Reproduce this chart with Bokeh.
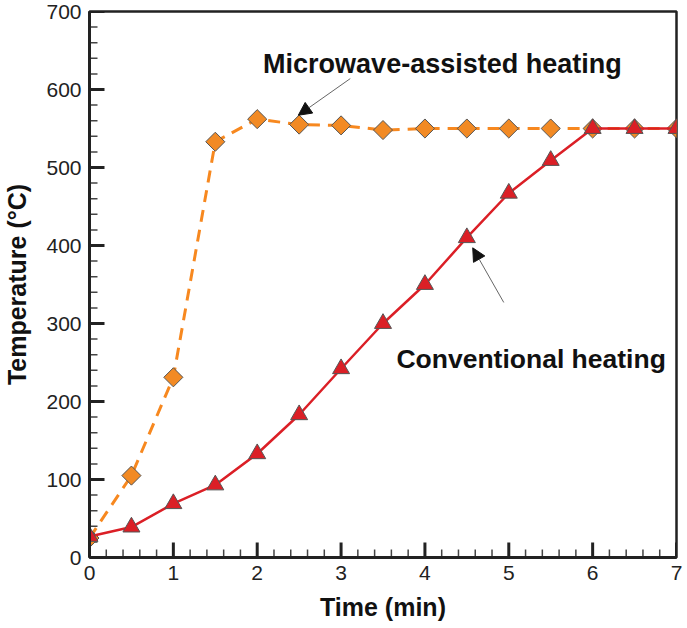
import numpy as np
from bokeh.plotting import figure
from bokeh.models import Range1d, Label, Arrow, NormalHead, SingleIntervalTicker
from bokeh.embed import file_html
from bokeh.resources import INLINE

# ---- data ----
time_min = [0, 0.5, 1, 1.5, 2, 2.5, 3, 3.5, 4, 4.5, 5, 5.5, 6, 6.5, 7]
microwave_temp = [25, 105, 231, 533, 562, 555, 554, 548, 550, 550, 550, 550, 550, 550, 550]
conventional_temp = [27, 39, 69, 93, 133, 183, 242, 300, 350, 410, 467, 509, 550, 550, 550]

x_ticks = [0, 1, 2, 3, 4, 5, 6, 7]
y_ticks = [0, 100, 200, 300, 400, 500, 600, 700]
x_minor_step = 0.2
y_minor_step = 20

x_label = "Time (min)"
y_label = "Temperature (°C)"
microwave_text = "Microwave-assisted heating"
conventional_text = "Conventional heating"

# annotation anchors (data units)
mw_text_pos = (2.07, 633)
conv_text_pos = (3.66, 255)
mw_arrow = (3.11, 614, 2.49, 567)
conv_arrow = (4.94, 327, 4.57, 397)

FONT = "Liberation Sans"
ORANGE = "#F7881F"
RED = "#DB1F26"

W, H = 687, 628
BL, BR, BT, BB = 89, 11, 11, 71
X0, X1, Y0, Y1 = 0, 7, 0, 700

p = figure(width=W, height=H, output_backend="svg", toolbar_location=None,
           x_range=Range1d(X0, X1), y_range=Range1d(Y0, Y1),
           min_border_left=BL, min_border_right=BR, min_border_top=BT, min_border_bottom=BB)

p.grid.visible = False
p.background_fill_color = "white"
p.border_fill_color = "white"
p.outline_line_color = "#222222"
p.outline_line_width = 2.5

p.xaxis.ticker = SingleIntervalTicker(interval=1, num_minor_ticks=5)
p.yaxis.ticker = SingleIntervalTicker(interval=100, num_minor_ticks=5)

for ax in (p.xaxis[0], p.yaxis[0]):
    ax.axis_line_width = 3
    ax.axis_line_color = "#222222"
    ax.major_tick_in = 0
    ax.major_tick_out = 0
    ax.minor_tick_in = 0
    ax.minor_tick_out = 0
    ax.major_label_text_font = FONT
    ax.major_label_text_font_size = "21px"
    ax.major_label_text_color = "#222222"
    ax.axis_label_text_font = FONT
    ax.axis_label_text_font_size = "25px"
    ax.axis_label_text_font_style = "bold"
    ax.axis_label_text_color = "#111111"

p.xaxis.axis_label = x_label
p.yaxis.axis_label = y_label
p.xaxis.major_label_standoff = 8
p.yaxis.major_label_standoff = 8
p.xaxis.axis_label_standoff = 10
p.yaxis.axis_label_standoff = 12

# inward ticks drawn as segments (lengths in screen px converted to data units)
fw = W - BL - BR
fh = H - BT - BB
ux = (X1 - X0) / fw   # data per px horizontally
uy = (Y1 - Y0) / fh   # data per px vertically
MAJ, MIN = 15, 8

xmin_ticks = [float(v) for v in np.arange(X0, X1 + 1e-9, x_minor_step)
              if min(abs(v - t) for t in x_ticks) > 1e-6]
ymin_ticks = [float(v) for v in np.arange(Y0, Y1 + 1e-9, y_minor_step)
              if min(abs(v - t) for t in y_ticks) > 1e-6]

p.segment(x0=x_ticks, y0=[Y0] * len(x_ticks), x1=x_ticks, y1=[Y0 + MAJ * uy] * len(x_ticks),
          line_color="#222222", line_width=3)
p.segment(x0=xmin_ticks, y0=[Y0] * len(xmin_ticks), x1=xmin_ticks, y1=[Y0 + MIN * uy] * len(xmin_ticks),
          line_color="#444444", line_width=1.5)
p.segment(x0=[X0] * len(y_ticks), y0=y_ticks, x1=[X0 + MAJ * ux] * len(y_ticks), y1=y_ticks,
          line_color="#222222", line_width=3)
p.segment(x0=[X0] * len(ymin_ticks), y0=ymin_ticks, x1=[X0 + MIN * ux] * len(ymin_ticks), y1=ymin_ticks,
          line_color="#444444", line_width=1.5)

# microwave series
p.line(time_min, microwave_temp, line_color=ORANGE, line_width=3, line_dash="12 8")
p.scatter(time_min, microwave_temp, marker="square", size=13.5, angle=np.pi / 4,
          fill_color="#F28A24", line_color="#555555", line_width=1)

# conventional series
p.line(time_min, conventional_temp, line_color=RED, line_width=2.5)
p.scatter(time_min, conventional_temp, marker="triangle", size=17,
          fill_color=RED, line_color="#555555", line_width=1)

# annotations
p.add_layout(Label(x=mw_text_pos[0], y=mw_text_pos[1], text=microwave_text,
                   text_font=FONT, text_font_size="27px", text_font_style="bold",
                   text_color="#111111", text_baseline="alphabetic"))
p.add_layout(Label(x=conv_text_pos[0], y=conv_text_pos[1], text=conventional_text,
                   text_font=FONT, text_font_size="26.5px", text_font_style="bold",
                   text_color="#111111", text_baseline="alphabetic"))

for (x0, y0, x1, y1) in (mw_arrow, conv_arrow):
    p.add_layout(Arrow(x_start=x0, y_start=y0, x_end=x1, y_end=y1,
                       line_color="#666666", line_width=1,
                       end=NormalHead(size=13, fill_color="#111111", line_color="#111111",
                                      line_width=1)))

open("out.html", "w").write(file_html(p, INLINE))
